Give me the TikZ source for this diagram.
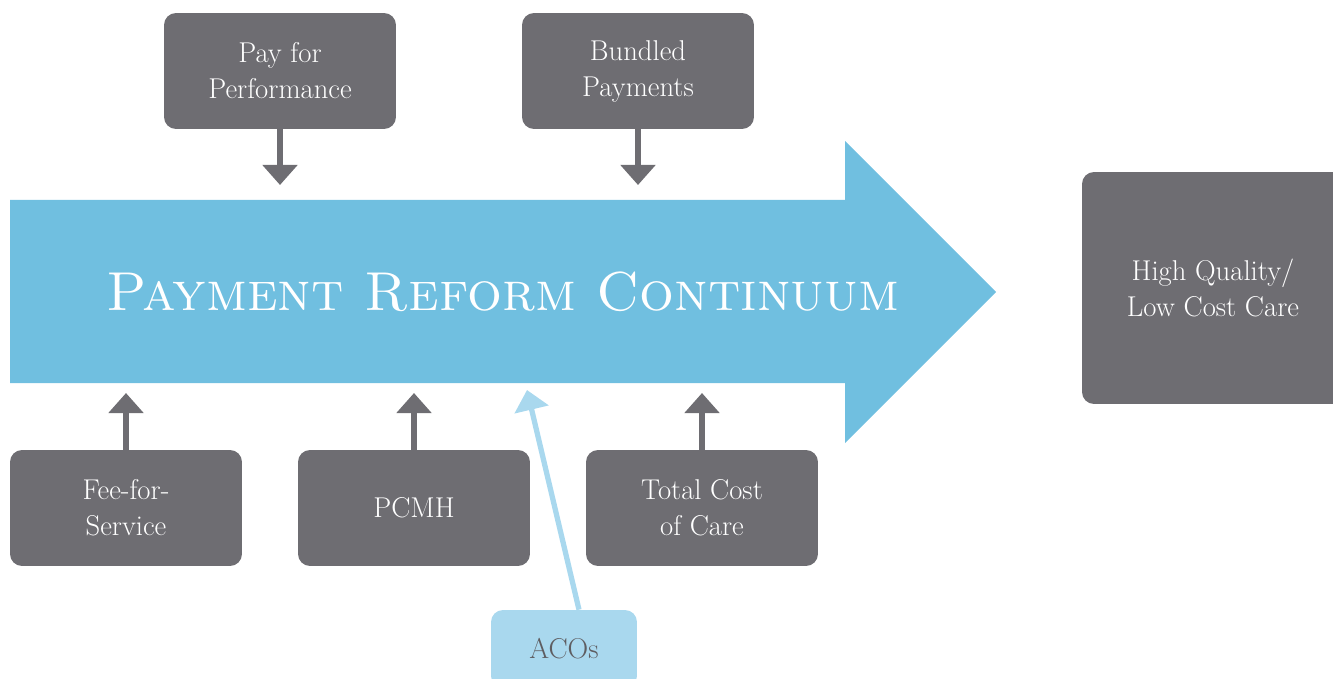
\documentclass[tikz,border=0pt]{standalone}
\usetikzlibrary{arrows.meta,positioning}
\definecolor{boxgray}{HTML}{6E6D72}
\definecolor{flowblue}{HTML}{70BFE0}
\definecolor{acoblue}{HTML}{A9D8EE}
\tikzset{
  paybox/.style={fill=boxgray, text=white, rounded corners=0.24cm,
    minimum width=4.64cm, minimum height=2.32cm, align=center,
    font=\fontsize{16.3}{20.5}\selectfont},
  feed/.style={draw=boxgray, line width=3.4pt,
    -{Triangle[width=19.4pt,length=11.4pt]}},
}
\begin{document}
\begin{tikzpicture}[x=0.02cm,y=-0.02cm]
    \clip (0,0) rectangle (1333,679);

    % the continuum arrow
    \fill[flowblue] (10,200) -- (845,200) -- (845,141) -- (996,292)
        -- (845,443) -- (845,383) -- (10,383) -- cycle;
    \node[text=white, font=\fontsize{31.2}{38}\selectfont] (prc) at (503,292)
        {\textsc{Payment Reform Continuum}};

    % models above
    \node[paybox] (perf) at (280,71) {Pay for\\Performance};
    \node[paybox] (bund) at (638,71) {Bundled\\Payments};

    % models below
    \node[paybox] (ffs) at (126,508) {Fee-for-\\Service};
    \node[paybox] (pcmh) at (414,508) {PCMH};
    \node[paybox] (tcoc) at (702,508) {Total Cost\\of Care};
    \node[paybox, fill=acoblue, text=boxgray!85!black, minimum width=2.92cm,
        minimum height=1.56cm] (aco) at (564,649) {ACOs};

    % goal
    \node[paybox, minimum width=5.24cm, minimum height=4.64cm] (goal)
        at (1213,288) {High Quality/\\Low Cost Care};

    % arrow ends on the continuum
    \coordinate (perf-in) at (280,185);
    \coordinate (bund-in) at (638,185);
    \coordinate (ffs-in) at (126,393);
    \coordinate (pcmh-in) at (414,393);
    \coordinate (tcoc-in) at (702,393);
    \coordinate (aco-in) at (527,390);

    \draw[feed] (perf) -- (perf-in);
    \draw[feed] (bund) -- (bund-in);
    \draw[feed] (ffs) -- (ffs-in);
    \draw[feed] (pcmh) -- (pcmh-in);
    \draw[feed] (tcoc) -- (tcoc-in);
    \draw[feed, draw=acoblue, line width=3pt] ([xshift=0.3cm]aco.north) -- (aco-in);
\end{tikzpicture}
\end{document}
